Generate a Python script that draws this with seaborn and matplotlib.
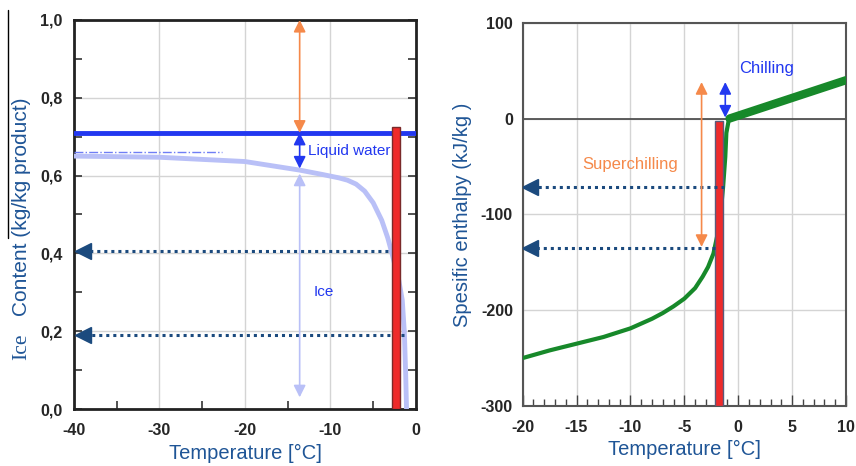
import numpy as np
import matplotlib.pyplot as plt
import seaborn as sns
from matplotlib.lines import Line2D

# ----------------------------- DATA -----------------------------
# left panel: ice content vs temperature
ice_temp = [-40, -30, -20, -13.6, -11, -9, -8, -7, -6, -5, -4, -3.3, -2.8, -2.0, -1.6, -1.35, -1.2, -1.1]
ice_content = [0.650, 0.647, 0.636, 0.614, 0.603, 0.594, 0.588, 0.578, 0.560, 0.530, 0.485, 0.440,
               0.40, 0.33, 0.28, 0.195, 0.09, 0.0]
total_water = 0.71
dashdot_level = 0.66
dashdot_temp = [-40, -22.7]
ice_bar_span = [-2.8, -1.9]
ice_bar_top = 0.725
ice_arrow_levels = [0.405, 0.19]
ice_arrow_from = [-2.5, -1.4]
ice_arrow_tip = -39.0
ice_arrow_x = -13.6

# right panel: specific enthalpy vs temperature
enth_temp = [-20, -17.5, -15, -12.5, -10, -8, -7, -6, -5, -4, -3.3, -2.8, -2.3,
             -1.9, -1.6, -1.4, -1.2, -1.1, -0.9, -0.8]
enth_value = [-250, -242, -235, -228, -219, -209, -203, -196, -188, -177, -165, -155, -141,
              -120, -95, -71, -40, -15, -3, 0]
enth_temp_hi = [-0.8, 10]
enth_value_hi = [0, 40]
enth_bar_span = [-2.15, -1.38]
enth_bar_top = -3
enth_arrow_levels = [-71, -135]
enth_arrow_from = [-1.3, -2.2]
enth_arrow_tip = -19.3
superchill_x = -3.4
superchill_range = [38, -134]
chill_x = -1.2
chill_range = [38, 1]

# ----------------------------- STYLE -----------------------------
sns.set_style("white")
plt.rcParams["font.family"] = ["Liberation Sans", "DejaVu Sans"]
plt.rcParams["axes.unicode_minus"] = False

LABEL_BLUE = "#1f5596"
NAVY = "#1b4a7e"
BLUE = "#2238f0"
LIGHT = "#b9c0f7"
ORANGE = "#f5894a"
RED = "#ee2b2b"
GREEN = "#17892a"
GRID = "#d4d4d4"

fig = plt.figure(figsize=(8.56, 4.66), dpi=100)
ax1 = fig.add_axes([0.0864, 0.1223, 0.3995, 0.835])
ax2 = fig.add_axes([0.6106, 0.1288, 0.3777, 0.8225])

# ----------------------------- LEFT PANEL -----------------------------
ax1.set_xlim(-40, 0)
ax1.set_ylim(0, 1.0)
ax1.set_xticks([-40, -30, -20, -10, 0])
ax1.set_xticks(np.arange(-35, 0, 10), minor=True)
ax1.set_yticks(np.arange(0, 1.01, 0.2))
ax1.set_yticklabels(["0,0", "0,2", "0,4", "0,6", "0,8", "1,0"])
ax1.set_yticks(np.arange(0.1, 1.0, 0.2), minor=True)
ax1.grid(True, which="major", color=GRID, lw=1)
ax1.tick_params(which="both", direction="in", left=True, right=True, bottom=True,
                length=6, width=1.2, color="#333333")
ax1.tick_params(axis="x", which="major", length=0, pad=10)
ax1.tick_params(axis="y", which="major", pad=8)
for lab in ax1.get_xticklabels() + ax1.get_yticklabels():
    lab.set_fontsize(11.5)
    lab.set_fontweight("bold")
for sp in ax1.spines.values():
    sp.set_color("#222222")
    sp.set_linewidth(2)

sns.lineplot(x=ice_temp, y=ice_content, ax=ax1, color=LIGHT, lw=3.5, zorder=3)
ax1.axhline(total_water, color=BLUE, lw=3.5, zorder=4)
ax1.plot(dashdot_temp, [dashdot_level] * 2, color="#6f7ef5", lw=1, ls="-.", zorder=3)

for y, x0 in zip(ice_arrow_levels, ice_arrow_from):
    ax1.plot([x0, ice_arrow_tip + 0.8], [y, y], color=NAVY, lw=2.2, ls=(0, (1, 1.3)), zorder=5)
    ax1.plot([ice_arrow_tip], [y], marker="<", ms=11, color=NAVY, mec=NAVY, zorder=5)

ax1.bar((ice_bar_span[0] + ice_bar_span[1]) / 2, ice_bar_top,
        width=ice_bar_span[1] - ice_bar_span[0], color=RED, edgecolor="#7a2a2a", lw=1, zorder=6)

ax1.annotate("", xy=(ice_arrow_x, 1.0), xytext=(ice_arrow_x, total_water),
             arrowprops=dict(arrowstyle="<|-|>", color=ORANGE, lw=1.2, mutation_scale=18,
                             shrinkA=0, shrinkB=0), zorder=5)
ax1.annotate("", xy=(ice_arrow_x, total_water), xytext=(ice_arrow_x, 0.618),
             arrowprops=dict(arrowstyle="<|-|>", color=BLUE, lw=1.2, mutation_scale=18,
                             shrinkA=0, shrinkB=0), zorder=5)
ax1.annotate("", xy=(ice_arrow_x, 0.605), xytext=(ice_arrow_x, 0.03),
             arrowprops=dict(arrowstyle="<|-|>", color=LIGHT, lw=1.2, mutation_scale=18,
                             shrinkA=0, shrinkB=0), zorder=5)
ax1.text(-12.6, 0.664, "Liquid water", color=BLUE, fontsize=11, va="center", ha="left", zorder=7)
ax1.text(-12.0, 0.30, "Ice", color=BLUE, fontsize=11, va="center", ha="left")

ax1.set_xlabel("Temperature [°C]", fontsize=14.5, color=LABEL_BLUE, labelpad=4)
fig.text(22 / 856, 1 - 347 / 466, "Ice", rotation=90, fontsize=15.5, color=LABEL_BLUE,
         family="Liberation Serif", ha="center", va="center")
fig.text(22 / 856, 1 - 207 / 466, "Content (kg/kg product)", rotation=90, fontsize=15,
         color=LABEL_BLUE, ha="center", va="center")
fig.add_artist(Line2D([8 / 856, 8 / 856], [1 - 10 / 466, 1 - 238 / 466], color="black", lw=1))

# ----------------------------- RIGHT PANEL -----------------------------
ax2.set_xlim(-20, 10)
ax2.set_ylim(-300, 100)
ax2.set_xticks(np.arange(-20, 11, 5))
ax2.set_xticks(np.arange(-20, 11, 1), minor=True)
ax2.set_yticks(np.arange(-300, 101, 100))
ax2.grid(True, which="major", color=GRID, lw=1)
ax2.tick_params(axis="x", which="both", direction="in", bottom=True, color="#444444", width=1)
ax2.tick_params(axis="x", which="major", length=8, pad=10)
ax2.tick_params(axis="x", which="minor", length=5)
ax2.tick_params(axis="y", length=0, pad=7)
for lab in ax2.get_xticklabels() + ax2.get_yticklabels():
    lab.set_fontsize(11.5)
    lab.set_fontweight("bold")
for sp in ax2.spines.values():
    sp.set_color("#555555")
    sp.set_linewidth(1.5)
ax2.axhline(0, color="#444444", lw=1.2, zorder=2)

sns.lineplot(x=enth_temp, y=enth_value, ax=ax2, color=GREEN, lw=3, zorder=3)
sns.lineplot(x=enth_temp_hi, y=enth_value_hi, ax=ax2, color=GREEN, lw=6, zorder=3)

for y, x0 in zip(enth_arrow_levels, enth_arrow_from):
    ax2.plot([x0, enth_arrow_tip + 0.6], [y, y], color=NAVY, lw=2.2, ls=(0, (1, 1.3)), zorder=5)
    ax2.plot([enth_arrow_tip], [y], marker="<", ms=11, color=NAVY, mec=NAVY, zorder=5)

ax2.bar((enth_bar_span[0] + enth_bar_span[1]) / 2, enth_bar_top + 300, bottom=-300,
        width=enth_bar_span[1] - enth_bar_span[0], color=RED, edgecolor="#5a5a7a", lw=1, zorder=4)

ax2.annotate("", xy=(superchill_x, superchill_range[0]), xytext=(superchill_x, superchill_range[1]),
             arrowprops=dict(arrowstyle="<|-|>", color=ORANGE, lw=1.2, mutation_scale=18,
                             shrinkA=0, shrinkB=0), zorder=6)
ax2.annotate("", xy=(chill_x, chill_range[0]), xytext=(chill_x, chill_range[1]),
             arrowprops=dict(arrowstyle="<|-|>", color=BLUE, lw=1.2, mutation_scale=18,
                             shrinkA=0, shrinkB=0), zorder=6)
ax2.text(2.6, 52, "Chilling", color=BLUE, fontsize=12, ha="center", va="center")
ax2.text(-10.0, -48, "Superchilling", color=ORANGE, fontsize=12, ha="center", va="center")

ax2.set_xlabel("Temperature [°C]", fontsize=14.5, color=LABEL_BLUE, labelpad=4)
ax2.set_ylabel("Spesific enthalpy (kJ/kg )", fontsize=14.5, color=LABEL_BLUE, labelpad=6)

fig.savefig("out.png", dpi=100)
